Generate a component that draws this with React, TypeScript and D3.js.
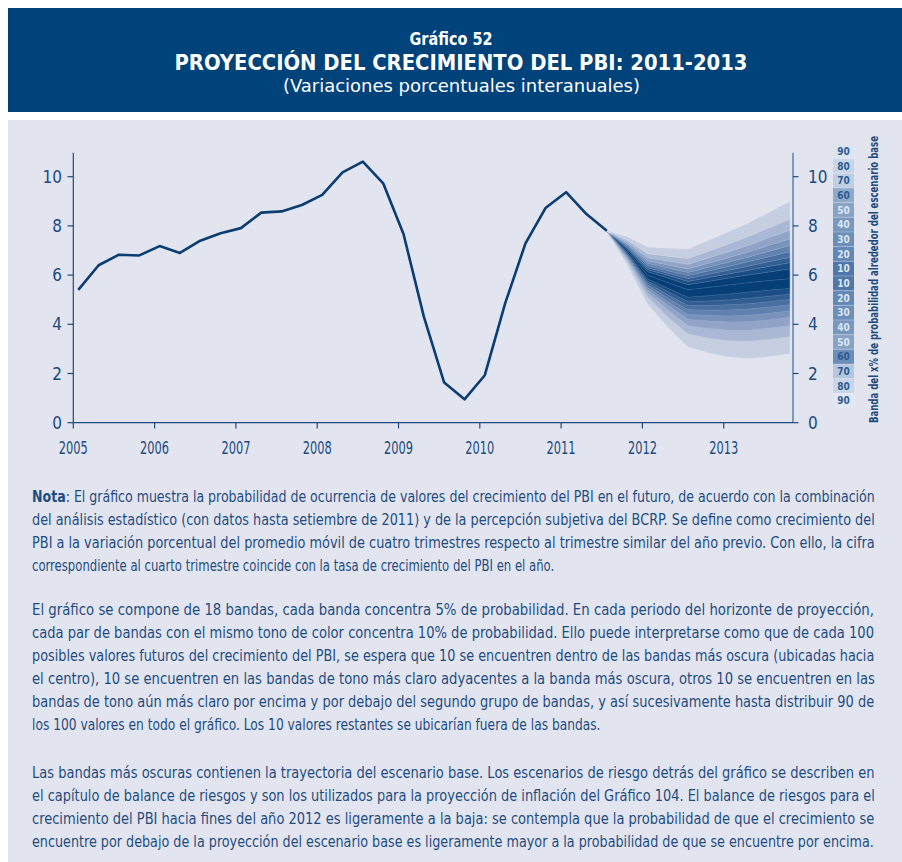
import * as d3 from "d3";

// Crecimiento del PBI, variación % del promedio móvil de 4 trimestres (2005T1 - 2011T3)
const pbiGrowth = [
  5.4, 6.4, 6.83, 6.8, 7.18, 6.9, 7.4, 7.7, 7.91, 8.54, 8.59, 8.85, 9.26, 10.18,
  10.61, 9.73, 7.67, 4.31, 1.63, 0.95, 1.93, 4.85, 7.29, 8.74, 9.37, 8.48, 7.8,
];

// fan chart: percentiles for quarters 2011T3 .. 2013T4
const fanStart = 26;
const p95 = [7.8, 7.55, 7.12, 7.08, 7.05, 7.4, 7.75, 8.12, 8.55, 8.98];
const p90 = [7.8, 7.43, 6.87, 6.77, 6.68, 6.97, 7.27, 7.58, 7.93, 8.28];
const p85 = [7.8, 7.35, 6.71, 6.57, 6.44, 6.7, 6.95, 7.22, 7.53, 7.82];
const p80 = [7.8, 7.28, 6.58, 6.41, 6.25, 6.48, 6.71, 6.95, 7.21, 7.47];
const p75 = [7.8, 7.24, 6.48, 6.29, 6.11, 6.32, 6.53, 6.74, 6.97, 7.2];
const p70 = [7.8, 7.19, 6.39, 6.18, 5.98, 6.17, 6.35, 6.55, 6.75, 6.95];
const p65 = [7.8, 7.15, 6.31, 6.08, 5.86, 6.03, 6.2, 6.37, 6.55, 6.72];
const p60 = [7.8, 7.11, 6.23, 5.99, 5.74, 5.9, 6.05, 6.2, 6.36, 6.5];
const p55 = [7.8, 7.07, 6.14, 5.88, 5.61, 5.74, 5.88, 6.01, 6.13, 6.25];
const p50 = [7.8, 7.0, 6.0, 5.7, 5.4, 5.5, 5.6, 5.7, 5.78, 5.85];
const p45 = [7.8, 6.93, 5.85, 5.47, 5.1, 5.16, 5.23, 5.31, 5.39, 5.46];
const p40 = [7.8, 6.89, 5.76, 5.33, 4.92, 4.95, 4.99, 5.06, 5.14, 5.22];
const p35 = [7.8, 6.85, 5.68, 5.2, 4.76, 4.76, 4.79, 4.84, 4.92, 5.01];
const p30 = [7.8, 6.81, 5.6, 5.07, 4.59, 4.57, 4.58, 4.62, 4.7, 4.79];
const p25 = [7.8, 6.76, 5.5, 4.92, 4.4, 4.36, 4.34, 4.37, 4.45, 4.54];
const p20 = [7.8, 6.72, 5.4, 4.77, 4.2, 4.13, 4.09, 4.1, 4.18, 4.28];
const p15 = [7.8, 6.65, 5.28, 4.57, 3.94, 3.83, 3.76, 3.76, 3.84, 3.94];
const p10 = [7.8, 6.57, 5.11, 4.3, 3.61, 3.44, 3.33, 3.31, 3.39, 3.5];
const p05 = [7.8, 6.45, 4.85, 3.9, 3.09, 2.85, 2.68, 2.62, 2.7, 2.82];
const fanBounds = [p05, p10, p15, p20, p25, p30, p35, p40, p45, p50, p55, p60, p65, p70, p75, p80, p85, p90, p95];

// tones from the central (darkest) band outwards
const tones = ["#063e76", "#1c4e86", "#335e94", "#4a70a1", "#6182ae", "#7892bb", "#91a4c8", "#aab8d5", "#c6cee2"];

const years = [2005, 2006, 2007, 2008, 2009, 2010, 2011, 2012, 2013];
const yTicks = [0, 2, 4, 6, 8, 10];

const legendLabels = ["90", "80", "70", "60", "50", "40", "30", "20", "10", "10", "20", "30", "40", "50", "60", "70", "80", "90"];
const legendFills = [
  "#dde5f0", "#c8d5e6", "#bfcfe3", "#8ea9ca", "#86a2c5", "#7797bf", "#6c8eb9", "#6488b5", "#4f77a8",
  "#4f77a8", "#6488b5", "#6c8eb9", "#7797bf", "#86a2c5", "#6a8dba", "#b5c7de", "#c9d6e7", "#e0e8f1",
];
const legendInk = [
  "#2d5b91", "#2d5b91", "#2d5b91", "#2d5b91", "#dce5f0", "#dce5f0", "#dce5f0", "#dce5f0", "#dce5f0",
  "#dce5f0", "#dce5f0", "#dce5f0", "#dce5f0", "#dce5f0", "#2d5b91", "#2d5b91", "#2d5b91", "#2d5b91",
];

const titleLines = ["Gráfico 52", "PROYECCIÓN DEL CRECIMIENTO DEL PBI: 2011-2013", "(Variaciones porcentuales interanuales)"];

const noteLabel = "Nota";
const para1 = [
  ": El gráfico muestra la probabilidad de ocurrencia de valores del crecimiento del PBI en el futuro, de acuerdo con la combinación",
  "del análisis estadístico (con datos hasta setiembre de 2011) y de la percepción subjetiva del BCRP. Se define como crecimiento del",
  "PBI a la variación porcentual del promedio móvil de cuatro trimestres respecto al trimestre similar del año previo. Con ello, la cifra",
  "correspondiente al cuarto trimestre coincide con la tasa de crecimiento del PBI en el año.",
];
const para2 = [
  "El gráfico se compone de 18 bandas, cada banda concentra 5% de probabilidad. En cada periodo del horizonte de proyección,",
  "cada par de bandas con el mismo tono de color concentra 10% de probabilidad. Ello puede interpretarse como que de cada 100",
  "posibles valores futuros del crecimiento del PBI, se espera que 10 se encuentren dentro de las bandas más oscura (ubicadas hacia",
  "el centro), 10 se encuentren en las bandas de tono más claro adyacentes a la banda más oscura, otros 10 se encuentren en las",
  "bandas de tono aún más claro por encima y por debajo del segundo grupo de bandas, y así sucesivamente hasta distribuir 90 de",
  "los 100 valores en todo el gráfico. Los 10 valores restantes se ubicarían fuera de las bandas.",
];
const para3 = [
  "Las bandas más oscuras contienen la trayectoria del escenario base. Los escenarios de riesgo detrás del gráfico se describen en",
  "el capítulo de balance de riesgos y son los utilizados para la proyección de inflación del Gráfico 104. El balance de riesgos para el",
  "crecimiento del PBI hacia fines del año 2012 es ligeramente a la baja: se contempla que la probabilidad de que el crecimiento se",
  "encuentre por debajo de la proyección del escenario base es ligeramente mayor a la probabilidad de que se encuentre por encima.",
];

const FONT = "'Liberation Sans Narrow', 'DejaVu Sans Condensed', 'Arial Narrow', sans-serif";
const INK = "#1c4a7e";
const NAVY = "#0b3d73";
const NOTE_SIZE = 16;

const x = d3.scaleLinear().domain([2005, 2013.852]).range([73.3, 793]);
const y = d3.scaleLinear().domain([0, 10.976]).range([422.7, 152.7]);
const qx = (i: number) => x(2005.0615 + i * 0.25);

// measure text so the justified lines can be squeezed to the column width
const ctx = document.createElement("canvas").getContext("2d");
function textWidth(s: string, bold = false) {
  if (!ctx) return s.length * NOTE_SIZE * 0.47;
  ctx.font = `${bold ? "bold " : ""}${NOTE_SIZE}px ${FONT}`;
  return ctx.measureText(s).width;
}

function Paragraph({ lines, top, lastWidth, bold }: { lines: string[]; top: number; lastWidth: number; bold?: string }) {
  return (
    <g>
      {lines.map((ln, i) => {
        const lead = i === 0 && bold ? bold : "";
        const leadW = lead ? textWidth(lead, true) : 0;
        const natural = leadW + textWidth(ln);
        const target = i === lines.length - 1 ? lastWidth : 843;
        const sx = target / natural;
        return (
          <g key={i} transform={`translate(32,${top + i * 23}) scale(${sx},1)`}>
            {lead ? (
              <text x={0} y={0} fontSize={NOTE_SIZE} fontWeight="bold" fill="#1f4c80">
                {lead}
              </text>
            ) : null}
            <text x={leadW} y={0} fontSize={NOTE_SIZE} fill="#1f4c80">
              {ln}
            </text>
          </g>
        );
      })}
    </g>
  );
}

export default function App() {
  const line = d3
    .line<number>()
    .x((_, i) => qx(i))
    .y((d) => y(d));

  const fanLine = d3
    .line<number>()
    .x((_, i) => qx(fanStart + i))
    .y((d) => y(d));

  const bands = d3.range(18).map((k) => {
    const lo = fanBounds[k];
    const hi = fanBounds[k + 1];
    const tone = k < 9 ? 8 - k : k - 9;
    const gen = d3
      .area<number>()
      .x((_, i) => qx(fanStart + i))
      .y0((_, i) => y(lo[i]))
      .y1((_, i) => y(hi[i]));
    return { d: gen(lo) as string, fill: tones[tone], k };
  });

  const cellH = (408 - 144) / legendLabels.length;

  return (
    <svg
      width={902}
      height={862}
      style={{ position: "absolute", left: 0, top: 0, fontFamily: FONT }}
    >
      <rect x={8} y={8} width={894} height={104} fill="#00427a" />
      <text x={451} y={45} textAnchor="middle" fill="#fff" fontWeight="bold" fontSize={18} textLength={83} lengthAdjust="spacingAndGlyphs">
        {titleLines[0]}
      </text>
      <text x={461} y={69.5} textAnchor="middle" fill="#fff" fontWeight="bold" fontSize={21} textLength={573} lengthAdjust="spacingAndGlyphs">
        {titleLines[1]}
      </text>
      <text x={461.5} y={91.5} textAnchor="middle" fill="#fff" fontSize={18.5} textLength={357} lengthAdjust="spacingAndGlyphs">
        {titleLines[2]}
      </text>

      <rect x={8} y={120} width={894} height={742} fill="#e2e5ef" />

      {/* fan */}
      {bands.map((b) => (
        <path key={b.k} d={b.d} fill={b.fill} stroke={b.fill} strokeWidth={0.4} />
      ))}
      {fanBounds.slice(1, 18).map((arr, j) => (
        <path
          key={"s" + j}
          d={fanLine(arr) as string}
          fill="none"
          stroke="#ffffff"
          strokeOpacity={0.18}
          strokeWidth={0.6}
        />
      ))}

      {/* history */}
      <path d={line(pbiGrowth) as string} fill="none" stroke={NAVY} strokeWidth={2.6} strokeLinejoin="round" />

      {/* left axis */}
      <line x1={73.3} x2={73.3} y1={152.7} y2={422.7} stroke={INK} strokeWidth={1.2} />
      {yTicks.map((t) => (
        <g key={"yl" + t}>
          <line x1={67.5} x2={73.3} y1={y(t)} y2={y(t)} stroke={INK} strokeWidth={1.2} />
          <text x={62} y={y(t) + 6} textAnchor="end" fontSize={17} fill={INK}>
            {t}
          </text>
        </g>
      ))}

      {/* right axis */}
      <line x1={793} x2={793} y1={152.7} y2={422.7} stroke="#557aa7" strokeWidth={1.4} />
      {yTicks.map((t) => (
        <g key={"yr" + t}>
          <line x1={793} x2={798.5} y1={y(t)} y2={y(t)} stroke="#1c4a7e" strokeWidth={1.2} />
          <text x={808} y={y(t) + 6} textAnchor="start" fontSize={17} fill={INK}>
            {t}
          </text>
        </g>
      ))}

      {/* x axis */}
      <line x1={73.3} x2={793} y1={422.7} y2={422.7} stroke={INK} strokeWidth={1.2} />
      {years.map((yr) => (
        <g key={yr}>
          <line x1={x(yr)} x2={x(yr)} y1={422.7} y2={428.5} stroke={INK} strokeWidth={1.2} />
          <text x={x(yr)} y={454} textAnchor="middle" fontSize={17} fill={INK} textLength={29} lengthAdjust="spacingAndGlyphs">
            {yr}
          </text>
        </g>
      ))}

      {/* legend */}
      {legendLabels.map((lab, i) => (
        <g key={"lg" + i}>
          <rect x={833} y={144 + i * cellH} width={21} height={cellH} fill={legendFills[i]} />
          <text
            x={843.5}
            y={144 + i * cellH + cellH / 2 + 3.5}
            textAnchor="middle"
            fontSize={10}
            fontWeight="bold"
            fill={legendInk[i]}
          >
            {lab}
          </text>
        </g>
      ))}
      {legendLabels.slice(1).map((_, i) => (
        <line
          key={"lsep" + i}
          x1={833}
          x2={854}
          y1={144 + (i + 1) * cellH}
          y2={144 + (i + 1) * cellH}
          stroke="#ffffff"
          strokeOpacity={0.35}
          strokeWidth={0.8}
        />
      ))}
      <text
        transform="translate(878,279.5) rotate(-90)"
        textAnchor="middle"
        fontSize={11.5}
        fontWeight="bold"
        fill="#1f4c80"
        textLength={287}
        lengthAdjust="spacingAndGlyphs"
      >
        Banda del x% de probabilidad alrededor del escenario base
      </text>

      {/* notes */}
      <Paragraph lines={[noteLabel, ...para1].slice(1)} top={502} lastWidth={523} bold={noteLabel} />
      <Paragraph lines={para2} top={615} lastWidth={569} />
      <Paragraph lines={para3} top={778} lastWidth={843} />
    </svg>
  );
}
